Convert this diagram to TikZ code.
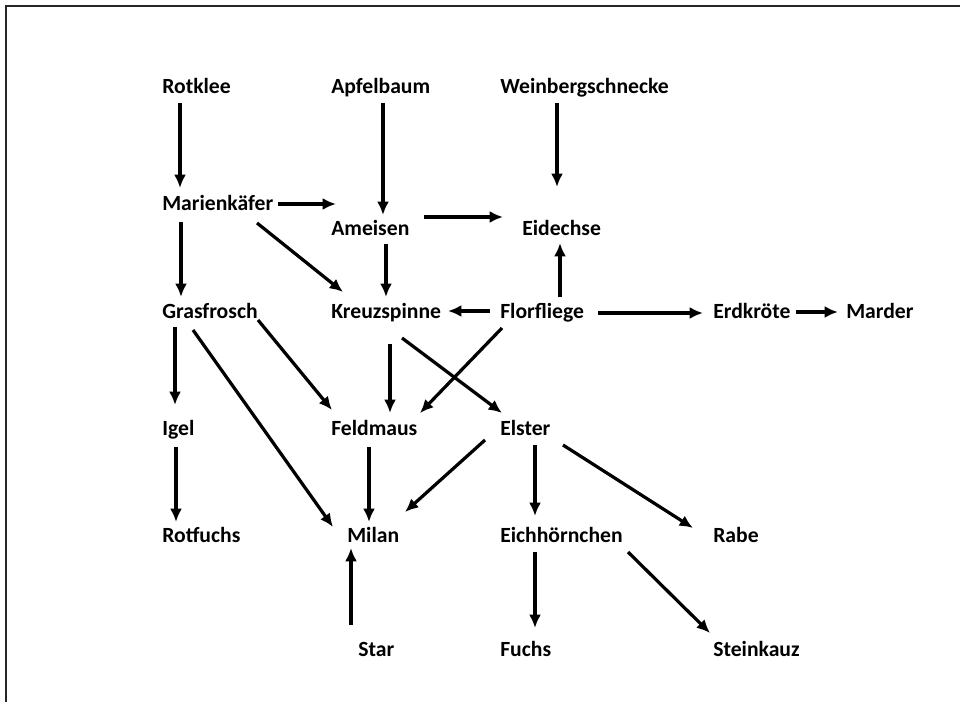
\documentclass[tikz,border=0pt]{standalone}
\usepackage{fontspec}
\setmainfont{Carlito}
\usetikzlibrary{arrows.meta,calc}
\begin{document}
\begin{tikzpicture}[x={(0.025cm,0cm)}, y={(0cm,-0.025cm)},
  font=\fontsize{15.4}{18}\selectfont\bfseries,
  tier/.style={anchor=base west, inner sep=0pt},
  arr/.style={->, >={Latex[length=9.5pt,width=8.5pt]}, line width=2.3pt}]
			\useasboundingbox (0,0) rectangle (960,702);
			% Frame
			\draw[line width=1.4pt, black!85] (6,702) -- (6,6) -- (960,6);
			
			% Species
			\node[tier] (rotklee) at (162,94) {Rotklee};
			\node[tier] (apfel) at (331,94) {Apfelbaum};
			\node[tier] (weinberg) at (500,94) {Weinbergschnecke};
			\node[tier] (marien) at (162,210) {Marienkäfer};
			\node[tier] (ameisen) at (331,236) {Ameisen};
			\node[tier] (eidechse) at (522,236) {Eidechse};
			\node[tier] (gras) at (162,318) {Grasfrosch};
			\node[tier] (kreuz) at (331,318) {Kreuzspinne};
			\node[tier] (flor) at (500,318) {Florfliege};
			\node[tier] (erd) at (713,318) {Erdkröte};
			\node[tier] (marder) at (846,318) {Marder};
			\node[tier] (igel) at (162,435) {Igel};
			\node[tier] (feld) at (331,435) {Feldmaus};
			\node[tier] (elster) at (500,435) {Elster};
			\node[tier] (rotfuchs) at (162,542) {Rotfuchs};
			\node[tier] (milan) at (347,542) {Milan};
			\node[tier] (eich) at (500,542) {Eichhörnchen};
			\node[tier] (rabe) at (713,542) {Rabe};
			\node[tier] (star) at (358,656) {Star};
			\node[tier] (fuchs) at (500,656) {Fuchs};
			\node[tier] (stein) at (713,656) {Steinkauz};
			
			% Who is eaten by whom
			\draw[arr] ($(rotklee.base west)+(18,9)$) -- ($(marien.base west)+(18,-22)$);
			\draw[arr] ($(apfel.base west)+(52,9)$) -- ($(ameisen.base west)+(52,-21)$);
			\draw[arr] ($(weinberg.base west)+(57,9)$) -- ($(eidechse.base west)+(35,-49)$);
			\draw[arr] ($(marien.base west)+(116,-6)$) -- ($(ameisen.base west)+(5,-32)$);
			\draw[arr] ($(marien.base west)+(95,13)$) -- ($(kreuz.base west)+(12,-26)$);
			\draw[arr] ($(marien.base west)+(19,12)$) -- ($(gras.base west)+(19,-21)$);
			\draw[arr] ($(ameisen.base west)+(55,8)$) -- ($(kreuz.base west)+(55,-21)$);
			\draw[arr] ($(ameisen.base west)+(93,-19)$) -- ($(eidechse.base west)+(-19,-19)$);
			\draw[arr] ($(flor.base west)+(60,-21)$) -- ($(eidechse.base west)+(38,7)$);
			\draw[arr] ($(flor.base west)+(-10,-7)$) -- ($(kreuz.base west)+(117,-7)$);
			\draw[arr] ($(flor.base west)+(98,-5)$) -- ($(erd.base west)+(-10,-5)$);
			\draw[arr] ($(erd.base west)+(83,-6)$) -- ($(marder.base west)+(-8,-6)$);
			\draw[arr] ($(flor.base west)+(2,10)$) -- ($(feld.base west)+(89,-22)$);
			\draw[arr] ($(kreuz.base west)+(71,20)$) -- ($(elster.base west)+(2,-22)$);
			\draw[arr] ($(kreuz.base west)+(59,26)$) -- ($(feld.base west)+(59,-22)$);
			\draw[arr] ($(gras.base west)+(96,2)$) -- ($(feld.base west)+(1,-25)$);
			\draw[arr] ($(gras.base west)+(31,12)$) -- ($(milan.base west)+(-14,-15)$);
			\draw[arr] ($(gras.base west)+(13,9)$) -- ($(igel.base west)+(13,-30)$);
			\draw[arr] ($(igel.base west)+(14,12)$) -- ($(rotfuchs.base west)+(14,-20)$);
			\draw[arr] ($(feld.base west)+(38,12)$) -- ($(milan.base west)+(22,-20)$);
			\draw[arr] ($(elster.base west)+(-15,5)$) -- ($(milan.base west)+(58,-30)$);
			\draw[arr] ($(elster.base west)+(35,10)$) -- ($(eich.base west)+(35,-26)$);
			\draw[arr] ($(elster.base west)+(63,10)$) -- ($(rabe.base west)+(-20,-14)$);
			\draw[arr] ($(star.base west)+(-7,-31)$) -- ($(milan.base west)+(4,6)$);
			\draw[arr] ($(eich.base west)+(35,10)$) -- ($(fuchs.base west)+(35,-28)$);
			\draw[arr] ($(eich.base west)+(128,10)$) -- ($(stein.base west)+(-3,-23)$);
		\end{tikzpicture}
\end{document}
